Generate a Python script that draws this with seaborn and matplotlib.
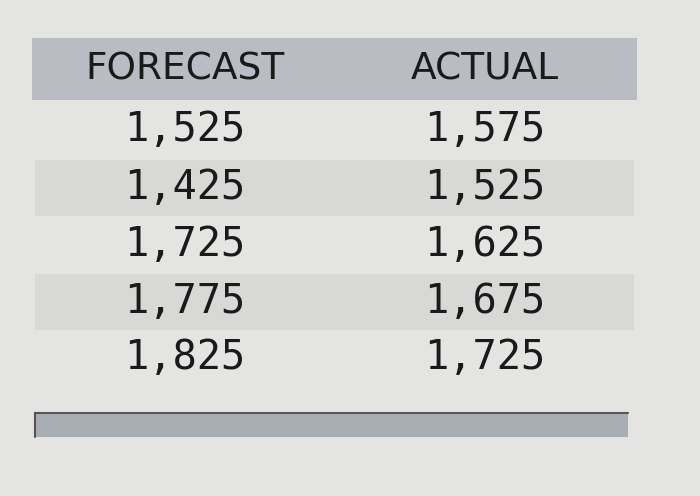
import matplotlib
matplotlib.use("Agg")
import matplotlib.pyplot as plt
import seaborn as sns

headers = ["FORECAST", "ACTUAL"]
forecast = ["1,525", "1,425", "1,725", "1,775", "1,825"]
actual = ["1,575", "1,525", "1,625", "1,675", "1,725"]

sns.set_style("white")

fig = plt.figure(figsize=(7, 4.96), dpi=100)
fig.patch.set_facecolor("#e4e4e2")
ax = fig.add_axes([0, 0, 1, 1])
ax.set_xlim(0, 700)
ax.set_ylim(496, 0)
ax.axis("off")

# header band
ax.fill_between([32, 637], 38, 100, color="#b9bcc3", lw=0)
# alternating row bands
row_y = [130, 188, 245, 302, 358]
for i, y in enumerate(row_y):
    if i % 2 == 1:
        ax.fill_between([35, 634], y - 28, y + 28, color="#d8d8d6", lw=0)
# bottom bar
ax.fill_between([35, 628], 413, 437, color="#a9adb4", lw=0)
ax.plot([35, 628], [413, 413], color="#555555", lw=1.5)
ax.plot([35, 35], [413, 437], color="#555555", lw=1.5)

col_x = [185, 485]
for x, h in zip(col_x, headers):
    ax.text(x, 70, h, ha="center", va="center", fontsize=27,
            family="DejaVu Sans", color="#1a1a1a")
for y, f, a in zip(row_y, forecast, actual):
    ax.text(col_x[0], y, f, ha="center", va="center", fontsize=29,
            family="DejaVu Sans Mono", color="#1a1a1a")
    ax.text(col_x[1], y, a, ha="center", va="center", fontsize=29,
            family="DejaVu Sans Mono", color="#1a1a1a")

fig.savefig("out.png", dpi=100)
